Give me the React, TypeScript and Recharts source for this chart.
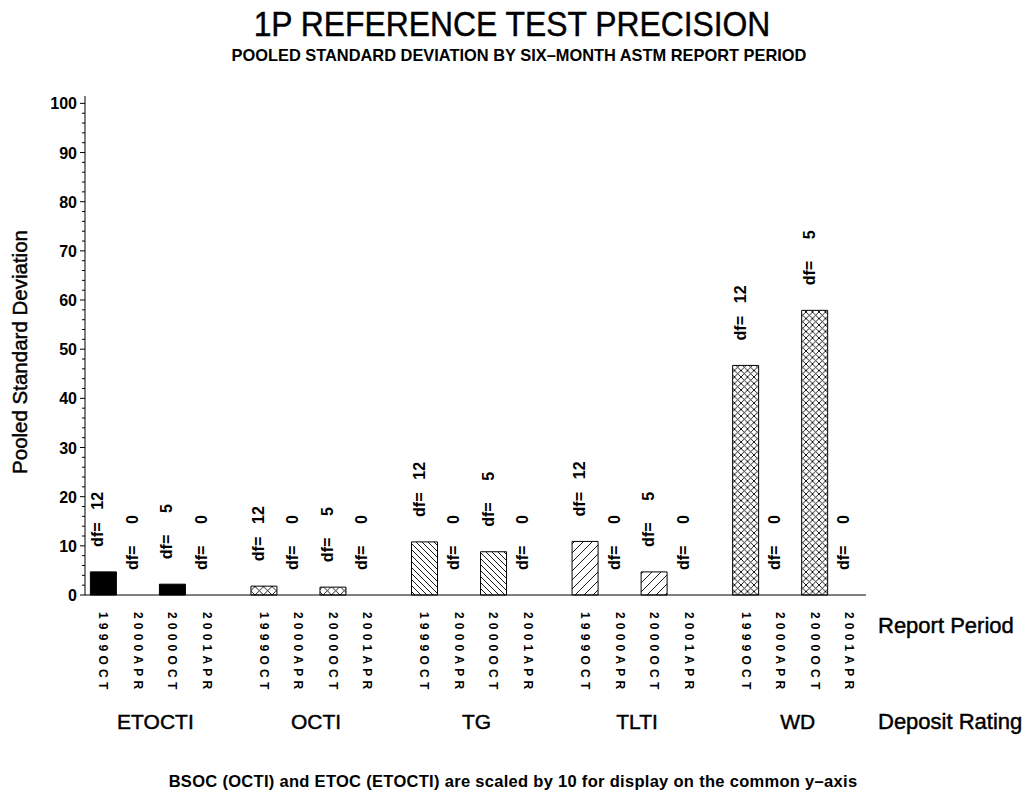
import { Bar, BarChart, Cell, LabelList, XAxis, YAxis } from 'recharts';

const groups = ['ETOCTI', 'OCTI', 'TG', 'TLTI', 'WD'];
const periods = ['1999OCT', '2000APR', '2000OCT', '2001APR'];
const periodDf = [12, 0, 5, 0];

// pooled SD per report period, one list per deposit rating
const etoctiSd = [4.7, 0, 2.2, 0];
const octiSd = [1.8, 0, 1.6, 0];
const tgSd = [10.8, 0, 8.8, 0];
const tltiSd = [10.9, 0, 4.7, 0];
const wdSd = [46.7, 0, 57.9, 0];
const sdByGroup = [etoctiSd, octiSd, tgSd, tltiSd, wdSd];

const yTicks = [0, 2, 4, 6, 8, 10, 12, 14, 16, 18, 20, 22, 24, 26, 28, 30, 32, 34, 36, 38, 40, 42, 44, 46, 48, 50,
  52, 54, 56, 58, 60, 62, 64, 66, 68, 70, 72, 74, 76, 78, 80, 82, 84, 86, 88, 90, 92, 94, 96, 98, 100];

const GROUP_STRIDE = 4.652;
const xDomain = [-0.54, (groups.length - 1) * GROUP_STRIDE + periods.length - 1 + 0.48];

const rows = groups.flatMap((group, gi) =>
  periods.map((period, pi) => ({
    x: gi * GROUP_STRIDE + pi,
    group,
    period,
    sd: sdByGroup[gi][pi],
    df: periodDf[pi],
  })),
);
const groupCenters = groups.map((_, gi) => gi * GROUP_STRIDE + (periods.length - 1) / 2);
const groupFills = ['#000', 'url(#hCrossWide)', 'url(#hBack)', 'url(#hFwd)', 'url(#hCross)'];

const FONT = '"Liberation Sans", Arial, Helvetica, sans-serif';
// SAS fonts are drawn a little heavier than plain regular
const heavy = { stroke: '#000', strokeWidth: 0.45 };

const YTick = ({ x, y, payload }: any) => {
  const major = payload.value % 10 === 0;
  return (
    <g>
      <line x1={x - (major ? 5 : 3)} x2={x} y1={y} y2={y} stroke="#000" />
      {major && (
        <text x={x - 8} y={y + 6} textAnchor="end" fontFamily={FONT} fontSize={16} fontWeight="bold" fill="#000">
          {payload.value}
        </text>
      )}
    </g>
  );
};

const PeriodTick = ({ x, y, payload }: any) => {
  const row = rows.find((r) => Math.abs(r.x - payload.value) < 1e-6);
  return (
    <text
      transform={`translate(${x},${y + 17}) rotate(90)`}
      dy="0.36em"
      fontFamily={FONT}
      fontSize={12}
      fontWeight="bold"
      letterSpacing={4.2}
      fill="#000"
    >
      {row ? row.period : ''}
    </text>
  );
};

const GroupTick = ({ x, y, index }: any) => (
  <text x={x} y={y + 34} textAnchor="middle" fontFamily={FONT} fontSize={21} fill="#000" {...heavy}>
    {groups[index]}
  </text>
);

const DfLabel = ({ x, y, width, value }: any) => {
  const cx = x + width / 2;
  return (
    <g transform={`translate(${cx},${y - 25}) rotate(-90)`} fontFamily={FONT} fontSize={16} fontWeight="bold" fill="#000">
      <text x={0} y={0}>df=</text>
      <text x={55} y={0} textAnchor="end">{value}</text>
    </g>
  );
};

const hatch = (id: string, s: number, fwd: boolean, back: boolean) => (
  <pattern id={id} patternUnits="userSpaceOnUse" width={s} height={s}>
    <rect width={s} height={s} fill="#fff" />
    {fwd && <path d={`M-1,1 l2,-2 M0,${s} l${s},${-s} M${s - 1},${s + 1} l2,-2`} stroke="#000" strokeWidth={0.9} />}
    {back && <path d={`M-1,${s - 1} l2,2 M0,0 l${s},${s} M${s - 1},-1 l2,2`} stroke="#000" strokeWidth={0.9} />}
  </pattern>
);

export default function App() {
  return (
    <div style={{ position: 'absolute', left: 0, top: 0, width: 1023, height: 795, background: '#fff' }}>
      <BarChart width={1023} height={795} data={rows} margin={{ top: 96, right: 157, bottom: 45, left: 0 }}>
        <XAxis
          type="number"
          dataKey="x"
          domain={xDomain}
          ticks={rows.map((r) => r.x)}
          interval={0}
          tickLine={false}
          tickSize={0}
          tickMargin={0}
          axisLine={{ stroke: '#000' }}
          height={100}
          tick={<PeriodTick />}
        />
        <XAxis
          xAxisId="grp"
          type="number"
          dataKey="x"
          domain={xDomain}
          ticks={groupCenters}
          interval={0}
          tickLine={false}
          tickSize={0}
          tickMargin={0}
          axisLine={false}
          height={55}
          tick={<GroupTick />}
        />
        <YAxis
          type="number"
          domain={[0, 101.5]}
          ticks={yTicks}
          interval={0}
          width={85}
          tickLine={false}
          tickSize={0}
          tickMargin={0}
          axisLine={{ stroke: '#000' }}
          tick={<YTick />}
        />
        {/* tiny minPointSize keeps the df= 0 labels for empty periods */}
        <Bar dataKey="sd" barSize={26} minPointSize={0.01} strokeWidth={1} isAnimationActive={false}>
          {rows.map((r, i) => (
            <Cell key={i} fill={r.sd > 0 ? groupFills[groups.indexOf(r.group)] : 'none'} stroke={r.sd > 0 ? '#000' : 'none'} />
          ))}
          <LabelList dataKey="df" content={<DfLabel />} />
        </Bar>
      </BarChart>
      <svg width={1023} height={795} style={{ position: 'absolute', left: 0, top: 0, pointerEvents: 'none' }} fontFamily={FONT} fill="#000">
        <defs>
          {hatch('hCrossWide', 8.5, true, true)}
          {hatch('hBack', 6, false, true)}
          {hatch('hFwd', 9, true, false)}
          {hatch('hCross', 6.5, true, true)}
        </defs>
        <text transform="translate(512,36) scale(0.91,1)" textAnchor="middle" fontSize={35} {...heavy}>
          1P REFERENCE TEST PRECISION
        </text>
        <text x={519} y={61} textAnchor="middle" fontSize={16.4} fontWeight="bold">
          POOLED STANDARD DEVIATION BY SIX–MONTH ASTM REPORT PERIOD
        </text>
        <text transform="translate(27,352) rotate(-90)" textAnchor="middle" fontSize={20.5} {...heavy}>
          Pooled Standard Deviation
        </text>
        <text x={878} y={633} fontSize={22} {...heavy}>Report Period</text>
        <text x={878} y={729} fontSize={22} {...heavy}>Deposit Rating</text>
        <text x={513} y={787} textAnchor="middle" fontSize={16.5} fontWeight="bold" letterSpacing={0.3}>
          BSOC (OCTI) and ETOC (ETOCTI) are scaled by 10 for display on the common y–axis
        </text>
      </svg>
    </div>
  );
}
